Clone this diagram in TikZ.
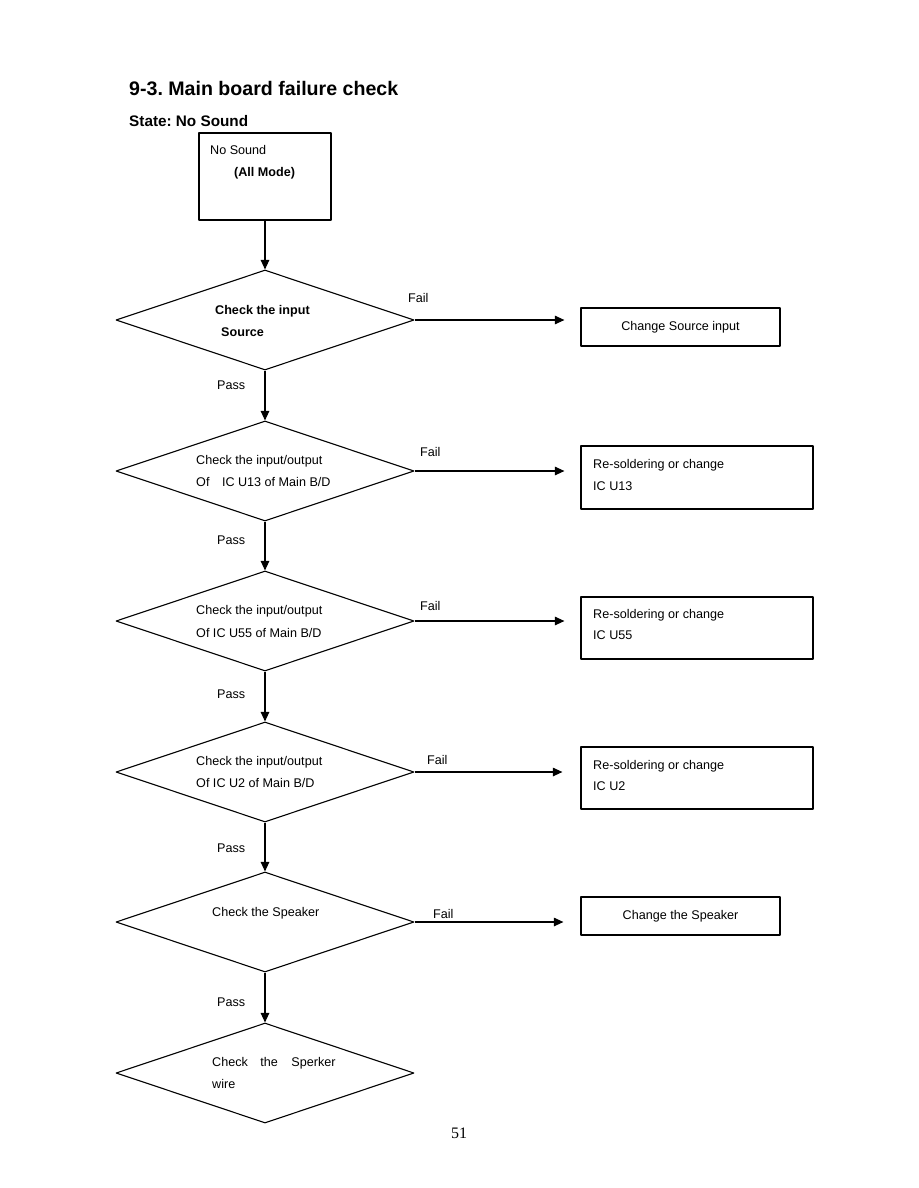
\documentclass[tikz,border=0pt]{standalone}
\usepackage{fontspec}
\setmainfont{Liberation Sans}
\newfontfamily\pagefont{Liberation Serif}
\usetikzlibrary{shapes.geometric,arrows.meta}
\frenchspacing

\newcommand{\chartfont}{\fontsize{12.6}{15}\selectfont}

\tikzset{
	decision/.style={diamond,draw,line width=1.1pt,minimum width=298pt,minimum height=100pt,inner sep=0pt},
	actbox/.style={rectangle,draw,line width=1.2pt,inner sep=0pt},
	txt/.style={inner sep=0pt,anchor=base west},
	flow/.style={line width=1.1pt,->}
}

\begin{document}
\begin{tikzpicture}[x=1pt,y=-1pt,font=\chartfont,line join=round,>={Triangle[length=9.5pt,width=8.5pt]}]
	\useasboundingbox (0,0) rectangle (918,1188);
	
	% headings
	\node[txt] (title) at (129,96) {\fontsize{19.6}{24}\selectfont\bfseries 9-3. Main board failure check};
	\node[txt] (state) at (129,127) {\fontsize{15.3}{18}\selectfont\bfseries State: No Sound};
	
	% start
	\node[actbox,minimum width=132pt,minimum height=87pt] (start) at (265,176.5) {};
	\node[txt] (start1) at (210,154.5) {No Sound};
	\node[txt] (start2) at (234,176) {\bfseries (All Mode)};
	
	% decisions
	\node[decision] (d1) at (265,320) {};
	\node[decision] (d2) at (265,471) {};
	\node[decision] (d3) at (265,621) {};
	\node[decision] (d4) at (265,772) {};
	\node[decision] (d5) at (265,922) {};
	\node[decision] (d6) at (265,1073) {};
	
	\node[txt] (d1a) at (215,314.5) {\bfseries Check the input};
	\node[txt] (d1b) at (221,336) {\bfseries Source};
	\node[txt] (d2a) at (196,464.5) {Check the input/output};
	\node[txt] (d2b) at (196,486.5) {Of\hspace{12.5pt}IC U13 of Main B/D};
	\node[txt] (d3a) at (196,614.5) {Check the input/output};
	\node[txt] (d3b) at (196,637.5) {Of IC U55 of Main B/D};
	\node[txt] (d4a) at (196,765.5) {Check the input/output};
	\node[txt] (d4b) at (196,787.5) {Of IC U2 of Main B/D};
	\node[txt] (d5a) at (212,916.5) {Check the Speaker};
	\node[txt] (d6a) at (212,1066.5) {Check\hspace{12.5pt}the\hspace{13.5pt}Sperker};
	\node[txt] (d6b) at (212,1088.5) {wire};
	
	% actions
	\node[actbox,minimum width=199pt,minimum height=38pt] (b1) at (680.5,327) {Change Source input};
	\node[actbox,minimum width=232pt,minimum height=63pt] (b2) at (697,477.5) {};
	\node[actbox,minimum width=232pt,minimum height=62pt] (b3) at (697,628) {};
	\node[actbox,minimum width=232pt,minimum height=62pt] (b4) at (697,778) {};
	\node[actbox,minimum width=199pt,minimum height=38pt] (b5) at (680.5,916) {Change the Speaker};
	
	\node[txt] (b2a) at (593,468) {Re-soldering or change};
	\node[txt] (b2b) at (593,490) {IC U13};
	\node[txt] (b3a) at (593,618.5) {Re-soldering or change};
	\node[txt] (b3b) at (593,639.5) {IC U55};
	\node[txt] (b4a) at (593,769) {Re-soldering or change};
	\node[txt] (b4b) at (593,790) {IC U2};
	
	% pass
	\draw[flow] (start.south) -- (d1.north);
	\draw[flow] (d1.south) -- (d2.north);
	\draw[flow] (d2.south) -- (d3.north);
	\draw[flow] (d3.south) -- (d4.north);
	\draw[flow] (d4.south) -- (d5.north);
	\draw[flow] (d5.south) -- (d6.north);
	\node[txt] (p1) at (217,389.5) {Pass};
	\node[txt] (p2) at (217,544.5) {Pass};
	\node[txt] (p3) at (217,698.5) {Pass};
	\node[txt] (p4) at (217,852.5) {Pass};
	\node[txt] (p5) at (217,1006.5) {Pass};
	
	% fail
	\draw[flow,shorten >=16pt] (d1.east) -- (d1.east -| b1.west);
	\draw[flow,shorten >=16pt] (d2.east) -- (d2.east -| b2.west);
	\draw[flow,shorten >=16pt] (d3.east) -- (d3.east -| b3.west);
	\draw[flow,shorten >=18pt] (d4.east) -- (d4.east -| b4.west);
	\draw[flow,shorten >=17pt] (d5.east) -- (d5.east -| b5.west);
	\node[txt] (f1) at (408,302.5) {Fail};
	\node[txt] (f2) at (420,456.5) {Fail};
	\node[txt] (f3) at (420,610.5) {Fail};
	\node[txt] (f4) at (427,764.5) {Fail};
	\node[txt] (f5) at (433,918.5) {Fail};
	
	\node[inner sep=0pt,anchor=base] (pagenum) at (459,1138) {\pagefont\fontsize{16}{18}\selectfont 51};
\end{tikzpicture}
\end{document}
